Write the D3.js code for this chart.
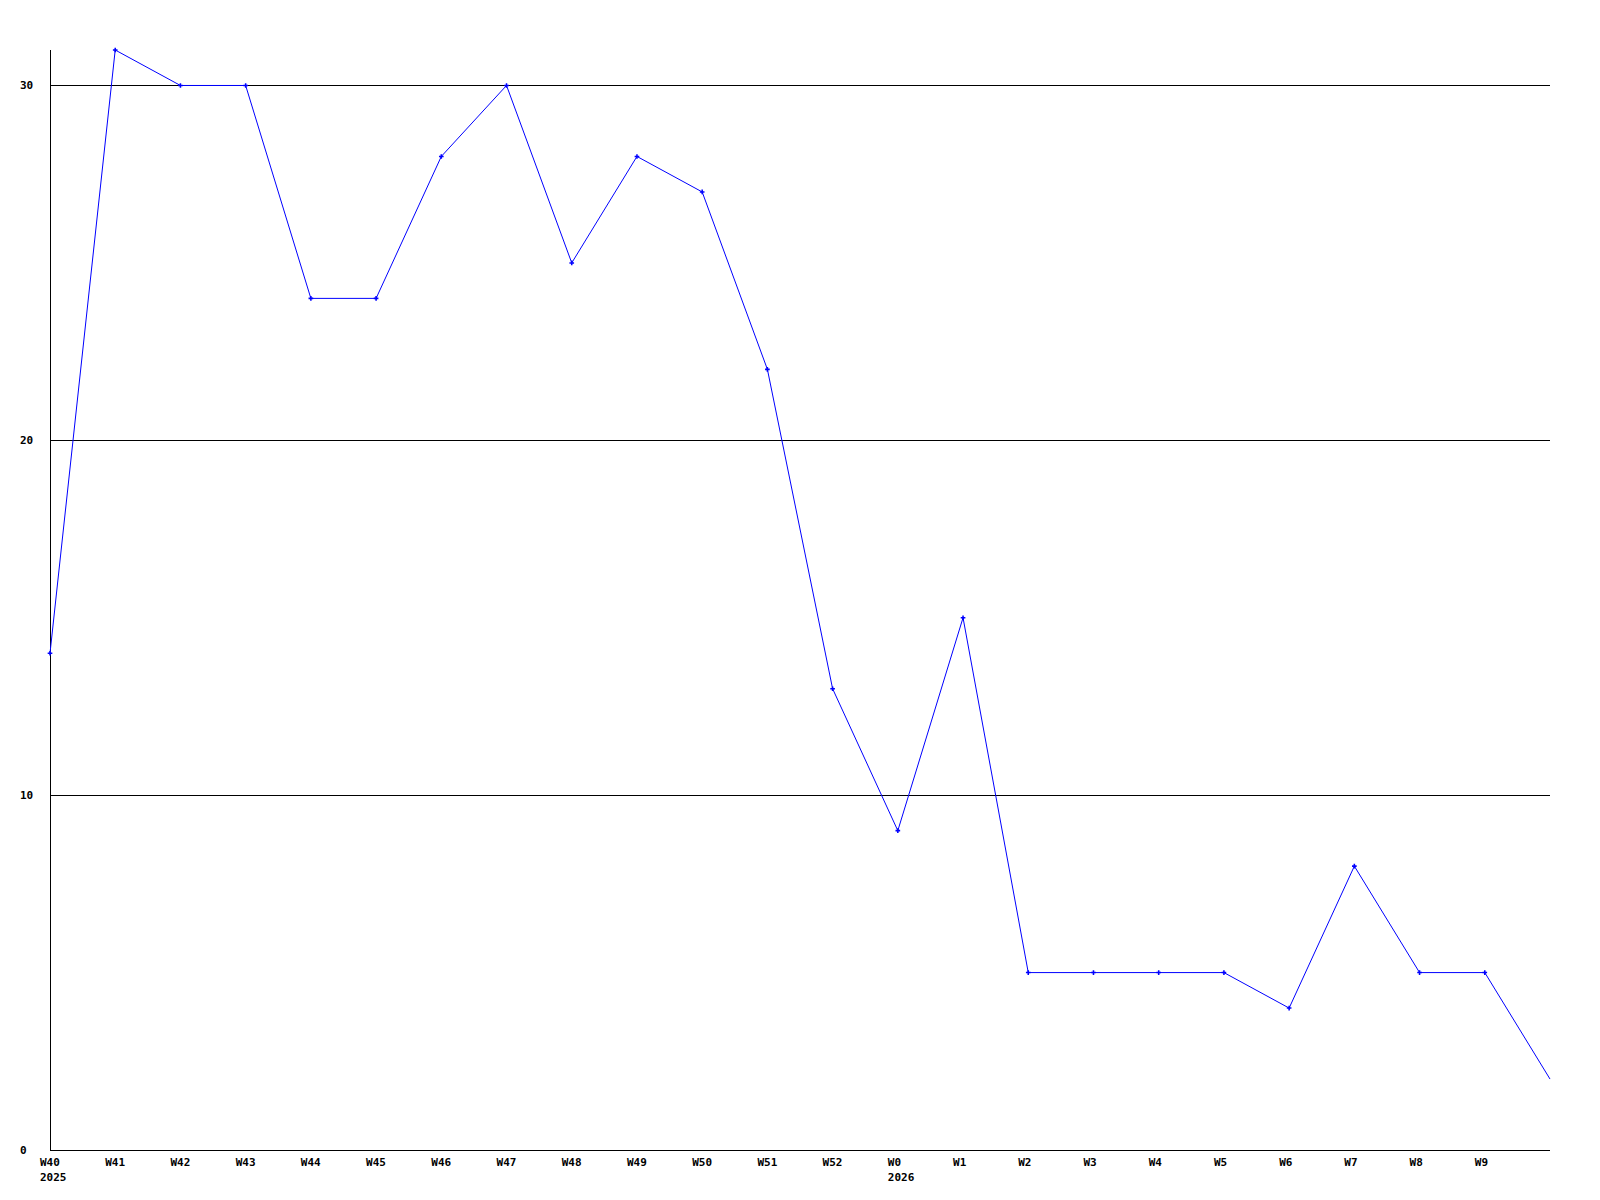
<!DOCTYPE html>
<html>
<head>
<meta charset="utf-8">
<script src="https://cdn.jsdelivr.net/npm/d3@7"></script>
<style>
  body { margin: 0; background: #fff; }
  svg { display: block; }
  .lbl { font-family: "DejaVu Sans Mono", monospace; font-size: 11px; font-weight: bold; fill: #000; }
</style>
</head>
<body>
<div id="chart"></div>
<script>
// weeks along the x axis (last point has no label)
const weeks = ["W40","W41","W42","W43","W44","W45","W46","W47","W48","W49","W50","W51","W52",
               "W0","W1","W2","W3","W4","W5","W6","W7","W8","W9",""];
const yearLabels = {"W40": "2025", "W0": "2026"};
const values = [14,31,30,30,24,24,28,30,25,28,27,22,13,9,15,5,5,5,5,4,8,5,5,2];
const yTicks = [0,10,20,30];

const width = 1600, height = 1200;
const margin = {left: 50, right: 50, top: 50, bottom: 50};

const svg = d3.select("#chart").append("svg")
    .attr("width", width)
    .attr("height", height);

const x = d3.scaleLinear()
    .domain([0, weeks.length - 1])
    .range([margin.left, width - margin.right]);

const y = d3.scaleLinear()
    .domain([0, d3.max(values)])
    .range([height - margin.bottom, margin.top]);

// horizontal grid lines
svg.append("g")
  .selectAll("line")
  .data(yTicks.filter(d => d > 0))
  .join("line")
    .attr("x1", x(0))
    .attr("x2", x(weeks.length - 1))
    .attr("y1", d => Math.round(y(d)) + 0.5)
    .attr("y2", d => Math.round(y(d)) + 0.5)
    .attr("stroke", "#000")
    .attr("stroke-width", 1);

// axes
svg.append("line")
    .attr("x1", x(0) + 0.5).attr("x2", x(0) + 0.5)
    .attr("y1", y.range()[1]).attr("y2", y(0))
    .attr("stroke", "#000");
svg.append("line")
    .attr("x1", x(0)).attr("x2", x(weeks.length - 1))
    .attr("y1", Math.round(y(0)) + 0.5).attr("y2", Math.round(y(0)) + 0.5)
    .attr("stroke", "#000");

// y labels
svg.append("g")
  .selectAll("text")
  .data(yTicks)
  .join("text")
    .attr("class", "lbl")
    .attr("x", 20)
    .attr("y", d => y(d) + 4)
    .text(d => d);

// x labels
const xl = svg.append("g");
xl.selectAll("text.wk")
  .data(weeks)
  .join("text")
    .attr("class", "lbl wk")
    .attr("x", (d, i) => x(i) - 10)
    .attr("y", y(0) + 16)
    .text(d => d);
xl.selectAll("text.yr")
  .data(weeks.filter(d => yearLabels[d]))
  .join("text")
    .attr("class", "lbl yr")
    .attr("x", d => x(weeks.indexOf(d)) - 10)
    .attr("y", y(0) + 31)
    .text(d => yearLabels[d]);

// line
const line = d3.line()
    .x((d, i) => x(i))
    .y(d => y(d));

svg.append("path")
    .datum(values)
    .attr("fill", "none")
    .attr("stroke", "#0000ff")
    .attr("stroke-width", 1)
    .attr("d", line);

// point markers (none on the last, unlabeled point)
svg.append("g")
  .selectAll("path")
  .data(values.slice(0, -1))
  .join("path")
    .attr("transform", (d, i) => "translate(" + x(i) + "," + y(d) + ")")
    .attr("d", d3.symbol(d3.symbolCross, 12))
    .attr("fill", "#0000ff");
</script>
</body>
</html>
